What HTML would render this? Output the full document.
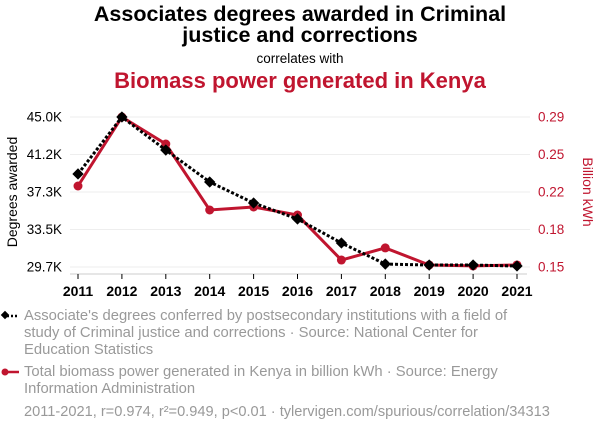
<!DOCTYPE html>
<html><head><meta charset="utf-8"><style>
body{margin:0;background:#fff;font-family:"Liberation Sans",sans-serif;}
svg text{font-family:"Liberation Sans",sans-serif;}
</style></head><body>
<svg width="600" height="430" xmlns="http://www.w3.org/2000/svg" id="c">
<text x="300" y="21" text-anchor="middle" font-size="21.5" font-weight="bold">Associates degrees awarded in Criminal</text>
<text x="300" y="42" text-anchor="middle" font-size="21.5" font-weight="bold">justice and corrections</text>
<text x="300" y="63" text-anchor="middle" font-size="13.5">correlates with</text>
<text x="300" y="88" text-anchor="middle" font-size="22" font-weight="bold" fill="#c0152f">Biomass power generated in Kenya</text>
<g id="grid"></g><g id="axes"></g><g id="series"></g>
<text transform="translate(17,192) rotate(-90)" text-anchor="middle" font-size="14">Degrees awarded</text>
<text transform="translate(583,192) rotate(90)" text-anchor="middle" font-size="14" fill="#c0152f">Billion kWh</text>
<g>
<line x1="3" y1="316" x2="19" y2="316" stroke="#000" stroke-width="2.5" stroke-dasharray="2,2"/>
<rect x="2" y="312" width="6" height="6" transform="rotate(45 5 315)" fill="#000"/>
<text font-size="14.8" fill="#999"><tspan x="24" y="320">Associate's degrees conferred by postsecondary institutions with a field of</tspan><tspan x="24" y="337">study of Criminal justice and corrections · Source: National Center for</tspan><tspan x="24" y="354">Education Statistics</tspan></text>
</g>
<g>
<line x1="3" y1="372" x2="19" y2="372" stroke="#c0152f" stroke-width="2.5"/>
<circle cx="5" cy="372" r="3.5" fill="#c0152f"/>
<text font-size="14.8" fill="#999"><tspan x="24" y="376">Total biomass power generated in Kenya in billion kWh · Source: Energy</tspan><tspan x="24" y="393">Information Administration</tspan></text>
</g>
<text x="24" y="416" font-size="14.6" fill="#999">2011-2021, r=0.974, r²=0.949, p&lt;0.01 · tylervigen.com/spurious/correlation/34313</text>
</svg>
<script>
const years=[2011,2012,2013,2014,2015,2016,2017,2018,2019,2020,2021];
const degrees=[39190,45000,41630,38370,36230,34600,32150,30000,29900,29900,29800];
const biomass=[0.2256,0.29,0.2648,0.2032,0.206,0.1985,0.1565,0.1678,0.1519,0.151,0.1519];
const leftTicks=[29700,33525,37350,41175,45000];
const leftTickLabels=["29.7K","33.5K","37.3K","41.2K","45.0K"];
const rightTicks=[0.15,0.185,0.22,0.255,0.29];
const rightTickLabels=["0.15","0.18","0.22","0.25","0.29"];
const NS="http://www.w3.org/2000/svg";
const x=y=>78+(y-2011)/(2021-2011)*439;
const yl=v=>267-(v-29700)/(45000-29700)*150;
const yr=v=>267-(v-0.15)/(0.29-0.15)*150;
function mk(t,a,p){const e=document.createElementNS(NS,t);for(const k in a)e.setAttribute(k,a[k]);p.appendChild(e);return e;}
const grid=document.getElementById('grid'),axes=document.getElementById('axes'),ser=document.getElementById('series');
leftTicks.forEach((v,i)=>{
 const g=mk('line',{x1:70,x2:530,y1:yl(v),y2:yl(v),stroke:'#eee','stroke-width':1},grid);
 
 
 const t=mk('text',{x:62,y:yl(v)+4.5,'text-anchor':'end','font-size':13.5},axes);t.textContent=leftTickLabels[i];
 
 
});
rightTicks.forEach((v,i)=>{
 const t=mk('text',{x:538,y:yr(v)+4.5,'font-size':13.5,fill:'#c0152f'},axes);t.textContent=rightTickLabels[i];
 
 
});
const ax=mk('line',{x1:70,x2:527,y1:274,y2:274,stroke:'#ccc'},axes);


years.forEach(yv=>{
 mk('line',{x1:x(yv),x2:x(yv),y1:274,y2:279,stroke:'#000'},axes);
 const t=mk('text',{x:x(yv),y:296,'text-anchor':'middle','font-size':14,'font-weight':'bold'},axes);t.textContent=yv;
 
 
});
const rp=mk('polyline',{points:years.map((yv,i)=>x(yv)+','+yr(biomass[i])).join(' '),fill:'none',stroke:'#c0152f','stroke-width':3},ser);


years.forEach((yv,i)=>{const c=mk('circle',{cx:x(yv),cy:yr(biomass[i]),r:4.5,fill:'#c0152f'},ser);
 
 });
const bp=mk('polyline',{points:years.map((yv,i)=>x(yv)+','+yl(degrees[i])).join(' '),fill:'none',stroke:'#000','stroke-width':3,'stroke-dasharray':'3,2'},ser);


years.forEach((yv,i)=>{const cx=x(yv),cy=yl(degrees[i]);
 const r=mk('rect',{x:cx-4,y:cy-4,width:8,height:8,fill:'#000',transform:`rotate(45 ${cx} ${cy})`},ser);
 
 });
</script>
</body></html>
